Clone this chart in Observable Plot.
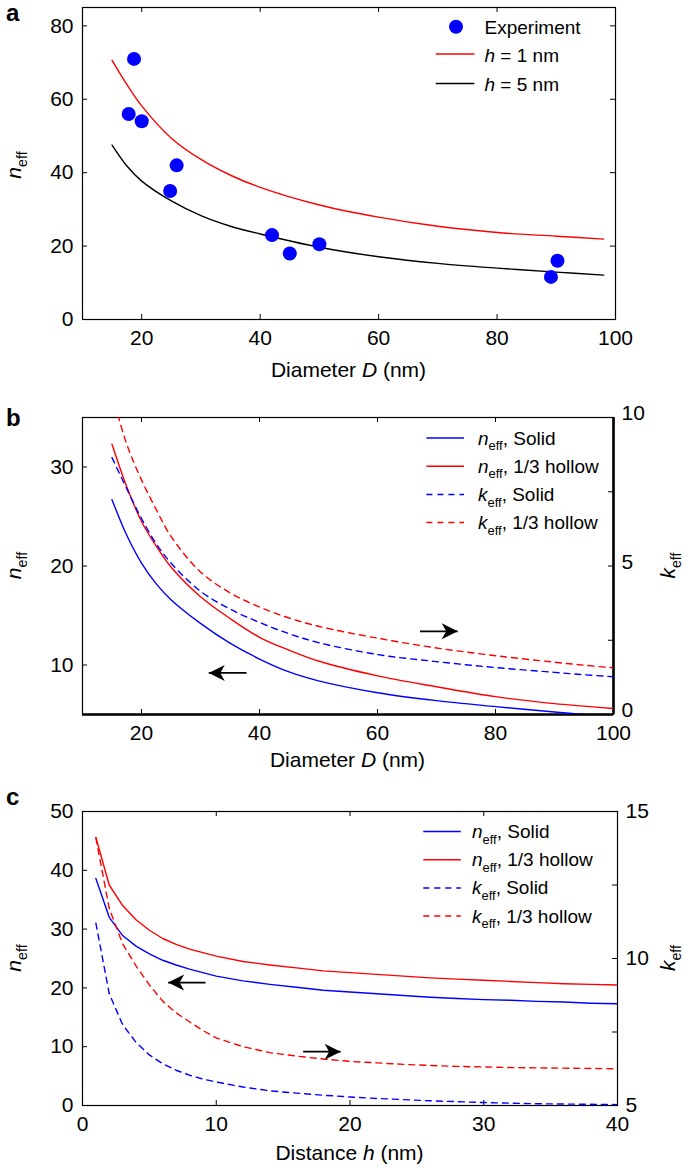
<!DOCTYPE html>
<html><head><meta charset="utf-8">
<script src="https://cdn.jsdelivr.net/npm/d3@7"></script>
<script src="https://cdn.jsdelivr.net/npm/@observablehq/plot@0.6"></script>
<style>
body{margin:0;background:#fff;}
#fig{position:relative;width:685px;height:1167px;}
.panel{position:absolute;left:0;width:685px;}
.panel svg{position:absolute;left:0;top:0;}
text{white-space:pre;}
</style></head><body><div id="fig"></div>
<script>
// ---------- Panel a data ----------
const expD = [17.8, 18.7, 20, 24.8, 25.9, 42, 45, 50, 89.1, 90.2];
const expN = [56, 71, 54, 35, 42, 23, 18, 20.5, 11.6, 16];
const aD  = [15, 17.5, 20, 25, 30, 35, 40, 50, 60, 70, 80, 90, 98];
const aH1 = [70.6, 64, 58.2, 49.4, 43.6, 39.3, 36, 31.2, 27.9, 25.4, 23.7, 22.7, 21.9];
const aH5 = [47.5, 41.8, 37.7, 32.3, 28.3, 25.4, 23.3, 19.7, 17.1, 15.3, 14, 12.9, 12.1];
const aXTicks = [20, 40, 60, 80, 100];
const aYTicks = [0, 20, 40, 60, 80];

// ---------- Panel b data ----------
const bD       = [15, 17.5, 20, 22.5, 25, 30, 35, 40, 45, 50, 60, 70, 80, 90, 95, 100];
const bNSolid  = [26.7, 23.1, 20.3, 18.2, 16.6, 14.2, 12.2, 10.6, 9.3, 8.4, 7.2, 6.4, 5.8, 5.25, 5.0, 4.8];
const bNHollow = [32.3, 28.0, 24.5, 22.0, 19.9, 16.9, 14.7, 12.8, 11.5, 10.4, 8.9, 7.8, 6.8, 6.1, 5.85, 5.6];
const bKSolid  = [8.65, 7.6, 6.6, 5.75, 5.1, 4.15, 3.55, 3.1, 2.72, 2.42, 2.02, 1.78, 1.58, 1.42, 1.34, 1.27];
const bKHollow = [10.8, 9.1, 7.9, 6.9, 6.0, 4.8, 4.1, 3.62, 3.25, 2.97, 2.57, 2.24, 1.98, 1.76, 1.66, 1.57];
const bXTicks = [20, 40, 60, 80, 100];
const bNTicks = [10, 20, 30];
const bKTicks = [0, 2.5, 5, 7.5, 10];
const bKLabels = [0, 5, 10];
const bArrowN = [37.8, 31.4, 9.2];   // from D, to D, at n
const bArrowK = [67.2, 73.6, 2.8];   // from D, to D, at k

// ---------- Panel c data ----------
const cH       = [1, 2, 3, 4, 5, 6, 7, 8, 9, 10, 12, 14, 16, 18, 20, 22, 24, 26, 28, 30, 32, 34, 36, 38, 40];
const cNSolid  = [38.6, 32.0, 28.9, 27.1, 25.8, 24.7, 23.9, 23.2, 22.6, 22.0, 21.2, 20.6, 20.1, 19.6, 19.3, 19.0, 18.7, 18.4, 18.2, 18.0, 17.9, 17.7, 17.6, 17.4, 17.3];
const cNHollow = [45.6, 37.5, 34.0, 31.6, 29.8, 28.4, 27.4, 26.6, 26.0, 25.4, 24.5, 23.9, 23.4, 22.9, 22.6, 22.3, 22.0, 21.7, 21.5, 21.3, 21.1, 20.9, 20.7, 20.6, 20.5];
const cKSolid  = [11.2, 8.8, 7.75, 7.15, 6.72, 6.42, 6.2, 6.03, 5.9, 5.8, 5.63, 5.5, 5.42, 5.35, 5.29, 5.24, 5.2, 5.16, 5.13, 5.1, 5.08, 5.06, 5.05, 5.04, 5.03];
const cKHollow = [14.1, 11.7, 10.5, 9.75, 9.1, 8.55, 8.15, 7.85, 7.55, 7.3, 7.0, 6.8, 6.68, 6.58, 6.5, 6.45, 6.4, 6.36, 6.33, 6.31, 6.29, 6.28, 6.27, 6.26, 6.25];
const cXTicks = [0, 10, 20, 30, 40];
const cNTicks = [0, 10, 20, 30, 40, 50];
const cKTicks = [5, 7.5, 10, 12.5, 15];
const cKLabels = [5, 10, 15];
const cArrowN = [9.2, 6.4, 20.9];
const cArrowK = [16.5, 19.3, 6.83];

// ---------- helpers ----------
const FONT = '"Liberation Sans", Arial, Helvetica, sans-serif';
const W = 685;
const BLUE = "#0000ff", RED = "#ff0000", BLACK = "#000000";
const fig = document.getElementById("fig");
const zip = (xs, ys) => xs.map((x, i) => ({x, y: ys[i]}));
const style = () => ({fontSize: "21px", fontFamily: FONT, background: "transparent", color: "#000", overflow: "visible"});

const arrowHead = {
  draw(ctx, size) {
    const L = Math.sqrt(size / Math.PI) * 2, w = L * 0.5;
    ctx.moveTo(0, 0); ctx.lineTo(w, L); ctx.lineTo(0, L * 0.72); ctx.lineTo(-w, L); ctx.closePath();
  }
};
function arrowMarks(a, dir) {
  const row = [{x1: a[0], x2: a[1], y: a[2]}];
  return [
    Plot.link(row, {x1: "x1", x2: "x2", y1: "y", y2: "y", stroke: BLACK, strokeWidth: 1.7}),
    Plot.dot(row, {x: "x2", y: "y", symbol: arrowHead, r: 8, fill: BLACK, stroke: "none", rotate: dir})
  ];
}

function tx(svg, x, y, parts, o = {}) {
  const fs = o.size || 21;
  const t = d3.select(svg).append("text")
    .attr("x", x).attr("y", y)
    .attr("font-family", FONT).attr("font-size", fs)
    .attr("text-anchor", o.anchor || "start").attr("fill", "#000");
  if (o.rotate) t.attr("transform", `rotate(${o.rotate},${x},${y})`);
  if (o.weight) t.attr("font-weight", o.weight);
  let sub = false;
  for (const p of parts) {
    const [s, k] = typeof p === "string" ? [p, ""] : p;
    const ts = t.append("tspan").text(s);
    if (k.includes("i")) ts.attr("font-style", "italic");
    if (k.includes("s")) { ts.attr("font-size", fs * 0.68); if (!sub) { ts.attr("dy", fs * 0.3); sub = true; } }
    else if (sub) { ts.attr("dy", -fs * 0.3); sub = false; }
  }
  return t;
}
function legendLine(svg, x1, x2, y, color, dashed) {
  const l = d3.select(svg).append("line").attr("x1", x1).attr("x2", x2).attr("y1", y).attr("y2", y)
    .attr("stroke", color).attr("stroke-width", 1.5);
  if (dashed) l.attr("stroke-dasharray", "6,5");
}
function panelDiv(top, height) {
  const d = document.createElement("div");
  d.className = "panel"; d.style.top = top + "px"; d.style.height = height + "px";
  fig.appendChild(d); return d;
}
function frameTicks(xt, yt, pw, ph, sides) {
  const m = [];
  m.push(Plot.tickX(xt, {x: d => d, insetTop: ph - 5, strokeWidth: 1}));
  m.push(Plot.tickX(xt, {x: d => d, insetBottom: ph - 5, strokeWidth: 1}));
  if (sides.left) m.push(Plot.tickY(yt, {y: d => d, insetRight: pw - 5, strokeWidth: 1}));
  if (sides.right) m.push(Plot.tickY(yt, {y: d => d, insetLeft: pw - 5, strokeWidth: 1}));
  return m;
}

// ---------- Panel a ----------
{
  const H = 400, m = {top: 7, right: 70, bottom: 81, left: 82};
  const pw = W - m.left - m.right, ph = H - m.top - m.bottom;
  const div = panelDiv(0, H);
  const svg = Plot.plot({
    width: W, height: H, marginTop: m.top, marginRight: m.right, marginBottom: m.bottom, marginLeft: m.left,
    style: style(),
    x: {domain: [10, 100]}, y: {domain: [0, 85]},
    marks: [
      Plot.frame({stroke: BLACK, strokeWidth: 1.2}),
      ...frameTicks(aXTicks, aYTicks, pw, ph, {left: true, right: true}),
      Plot.axisX(aXTicks, {tickSize: 0, tickPadding: 11, label: null}),
      Plot.axisY(aYTicks, {tickSize: 0, tickPadding: 9, label: null}),
      Plot.line(zip(aD, aH1), {x: "x", y: "y", stroke: RED, strokeWidth: 1.4, curve: "catmull-rom"}),
      Plot.line(zip(aD, aH5), {x: "x", y: "y", stroke: BLACK, strokeWidth: 1.4, curve: "catmull-rom"}),
      Plot.dot(zip(expD, expN), {x: "x", y: "y", r: 7, fill: BLUE, stroke: "none"})
    ]
  });
  div.appendChild(svg);
  tx(svg, 6, 21, ["a"], {size: 24, weight: "bold"});
  tx(svg, (m.left + W - m.right) / 2, 377, ["Diameter ", ["D", "i"], " (nm)"], {anchor: "middle"});
  tx(svg, 21, m.top + ph / 2 + 2, [["n", "i"], ["eff", "s"]], {anchor: "middle", rotate: -90});
  d3.select(svg).append("circle").attr("cx", 456).attr("cy", 26.7).attr("r", 7).attr("fill", BLUE);
  tx(svg, 484.5, 33.5, ["Experiment"], {size: 19});
  legendLine(svg, 435.7, 474.4, 54, RED, false);
  tx(svg, 484.5, 61.5, [["h", "i"], " = 1 nm"], {size: 19});
  legendLine(svg, 435.7, 474.4, 83.5, BLACK, false);
  tx(svg, 484.5, 91, [["h", "i"], " = 5 nm"], {size: 19});
}

// ---------- Dual-axis panels ----------
function dualPanel(c) {
  const m = c.m, H = c.height;
  const pw = W - m.left - m.right, ph = H - m.top - m.bottom;
  const div = panelDiv(c.top, H);
  const common = {width: W, height: H, marginTop: m.top, marginRight: m.right, marginBottom: m.bottom, marginLeft: m.left, style: style()};
  const base = Plot.plot({
    ...common,
    x: {domain: c.xDomain}, y: {domain: c.nDomain},
    marks: [
      Plot.frame({stroke: BLACK, strokeWidth: 1.2}),
      ...(c.thick ? [Plot.ruleY([c.nDomain[0]], {strokeWidth: 2.6}), Plot.ruleX([c.xDomain[1]], {strokeWidth: 2.6})] : []),
      ...frameTicks(c.xTicks, c.nTicks, pw, ph, {left: true}),
      Plot.axisX(c.xTicks, {tickSize: 0, tickPadding: 11, label: null}),
      Plot.axisY(c.nTicks, {tickSize: 0, tickPadding: 9, label: null}),
      Plot.line(zip(c.xs, c.nSolid), {x: "x", y: "y", stroke: BLUE, strokeWidth: 1.4, curve: c.curve, clip: true}),
      Plot.line(zip(c.xs, c.nHollow), {x: "x", y: "y", stroke: RED, strokeWidth: 1.4, curve: c.curve, clip: true}),
      ...arrowMarks(c.arrowN, -90)
    ]
  });
  const over = Plot.plot({
    ...common,
    x: {domain: c.xDomain, axis: null}, y: {domain: c.kDomain},
    marks: [
      Plot.tickY(c.kTicks, {y: d => d, insetLeft: pw - 5, strokeWidth: 1}),
      Plot.axisY(c.kLabels, {anchor: "right", tickSize: 0, tickPadding: 8, label: null, dy: c.kDy}),
      Plot.line(zip(c.xs, c.kSolid), {x: "x", y: "y", stroke: BLUE, strokeWidth: 1.4, strokeDasharray: "6,5", curve: c.curve, clip: true}),
      Plot.line(zip(c.xs, c.kHollow), {x: "x", y: "y", stroke: RED, strokeWidth: 1.4, strokeDasharray: "6,5", curve: c.curve, clip: true}),
      ...arrowMarks(c.arrowK, 90)
    ]
  });
  div.appendChild(base); div.appendChild(over);
  const svg = over;
  tx(svg, 6, c.labelY, [c.label], {size: 24, weight: "bold"});
  tx(svg, (m.left + W - m.right) / 2, c.titleY, c.title, {anchor: "middle"});
  tx(svg, 21, m.top + ph / 2, [["n", "i"], ["eff", "s"]], {anchor: "middle", rotate: -90});
  tx(svg, 675, m.top + ph / 2, [["k", "i"], ["eff", "s"]], {anchor: "middle", rotate: -90});
  const rows = [
    [BLUE, false, [["n", "i"], ["eff", "s"], ", Solid"]],
    [RED, false, [["n", "i"], ["eff", "s"], ", 1/3 hollow"]],
    [BLUE, true, [["k", "i"], ["eff", "s"], ", Solid"]],
    [RED, true, [["k", "i"], ["eff", "s"], ", 1/3 hollow"]]
  ];
  rows.forEach((r, i) => {
    const y = c.legY + i * 28.2;
    legendLine(svg, c.legX1, c.legX2, y, r[0], r[1]);
    tx(svg, c.legTx, y + 6.5, r[2], {size: 19});
  });
}

dualPanel({
  top: 400, height: 380, m: {top: 17, right: 72, bottom: 66, left: 82},
  xDomain: [10, 100], nDomain: [5, 35], kDomain: [0, 10], thick: true, kDy: -4,
  xTicks: bXTicks, nTicks: bNTicks, kTicks: bKTicks, kLabels: bKLabels,
  xs: bD, nSolid: bNSolid, nHollow: bNHollow, kSolid: bKSolid, kHollow: bKHollow,
  curve: "catmull-rom", arrowN: bArrowN, arrowK: bArrowK,
  label: "b", labelY: 26, titleY: 367, title: ["Diameter ", ["D", "i"], " (nm)"],
  legY: 38, legX1: 426.4, legX2: 464, legTx: 478
});
dualPanel({
  top: 780, height: 387, m: {top: 31, right: 68, bottom: 62, left: 82},
  xDomain: [0, 40], nDomain: [0, 50], kDomain: [5, 15], thick: false, kDy: 0,
  xTicks: cXTicks, nTicks: cNTicks, kTicks: cKTicks, kLabels: cKLabels,
  xs: cH, nSolid: cNSolid, nHollow: cNHollow, kSolid: cKSolid, kHollow: cKHollow,
  curve: "linear", arrowN: cArrowN, arrowK: cArrowK,
  label: "c", labelY: 25, titleY: 380, title: ["Distance ", ["h", "i"], " (nm)"],
  legY: 51.5, legX1: 423.3, legX2: 460.8, legTx: 472
});
</script></body></html>
